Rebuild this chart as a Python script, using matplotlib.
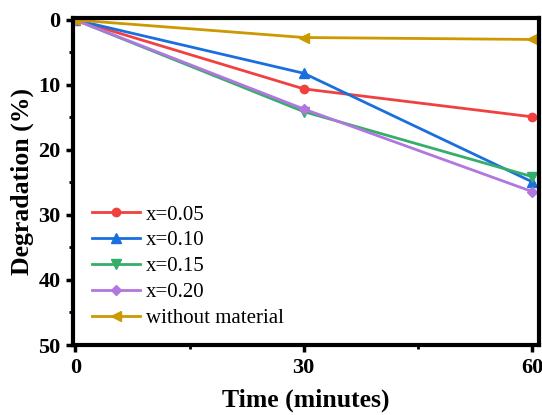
import matplotlib
matplotlib.use("Agg")
import matplotlib.pyplot as plt
from matplotlib.ticker import MultipleLocator

plt.rcParams['font.family'] = ['Liberation Serif', 'DejaVu Serif']

time = [0, 30, 60]
labels = ['x=0.05', 'x=0.10', 'x=0.15', 'x=0.20', 'without material']
x005 = [0, 10.6, 14.9]
x010 = [0, 8.2, 24.9]
x015 = [0, 14.1, 24.1]
x020 = [0, 13.7, 26.4]
without = [0, 2.7, 3.0]

series = [x005, x010, x015, x020, without]
colors = ['#F14040', '#1A6FDF', '#37AD6B', '#B177DE', '#CC9900']
markers = ['o', '^', 'v', 'D', '<']
msizes = [6, 6.5, 6.5, 5.5, 6.5]

fig = plt.figure(figsize=(5.42, 4.15), dpi=100)
ax = fig.add_axes([73/542, 1-345/415, (539-73)/542, (345-18)/415])

for s, c, m, ms, lab in zip(series, colors, markers, msizes, labels):
    ax.plot(time, s, color=c, marker=m, markersize=ms, linewidth=2, label=lab)

ax.set_xlim(-0.3, 60.9)
ax.set_ylim(50, -0.3)
ax.xaxis.set_major_locator(MultipleLocator(30))
ax.xaxis.set_minor_locator(MultipleLocator(15))
ax.yaxis.set_major_locator(MultipleLocator(10))
ax.yaxis.set_minor_locator(MultipleLocator(5))
ax.tick_params(which='major', direction='out', length=5, width=2.5, labelsize=16, pad=4)
ax.tick_params(which='minor', direction='out', length=3, width=2)
for lab in ax.get_xticklabels() + ax.get_yticklabels():
    lab.set_fontweight('bold')
for sp in ax.spines.values():
    sp.set_linewidth(3)

ax.set_xlabel('Time (minutes)', fontsize=18.5, fontweight='bold', labelpad=8)
ax.set_ylabel('Degradation (%)', fontsize=18.5, fontweight='bold', labelpad=3)

leg = ax.legend(loc='lower left', bbox_to_anchor=(0.0, -0.005), frameon=False,
                fontsize=15, handlelength=2.3, handletextpad=0.3, labelspacing=0.3)

fig.savefig('out.png', dpi=100)
